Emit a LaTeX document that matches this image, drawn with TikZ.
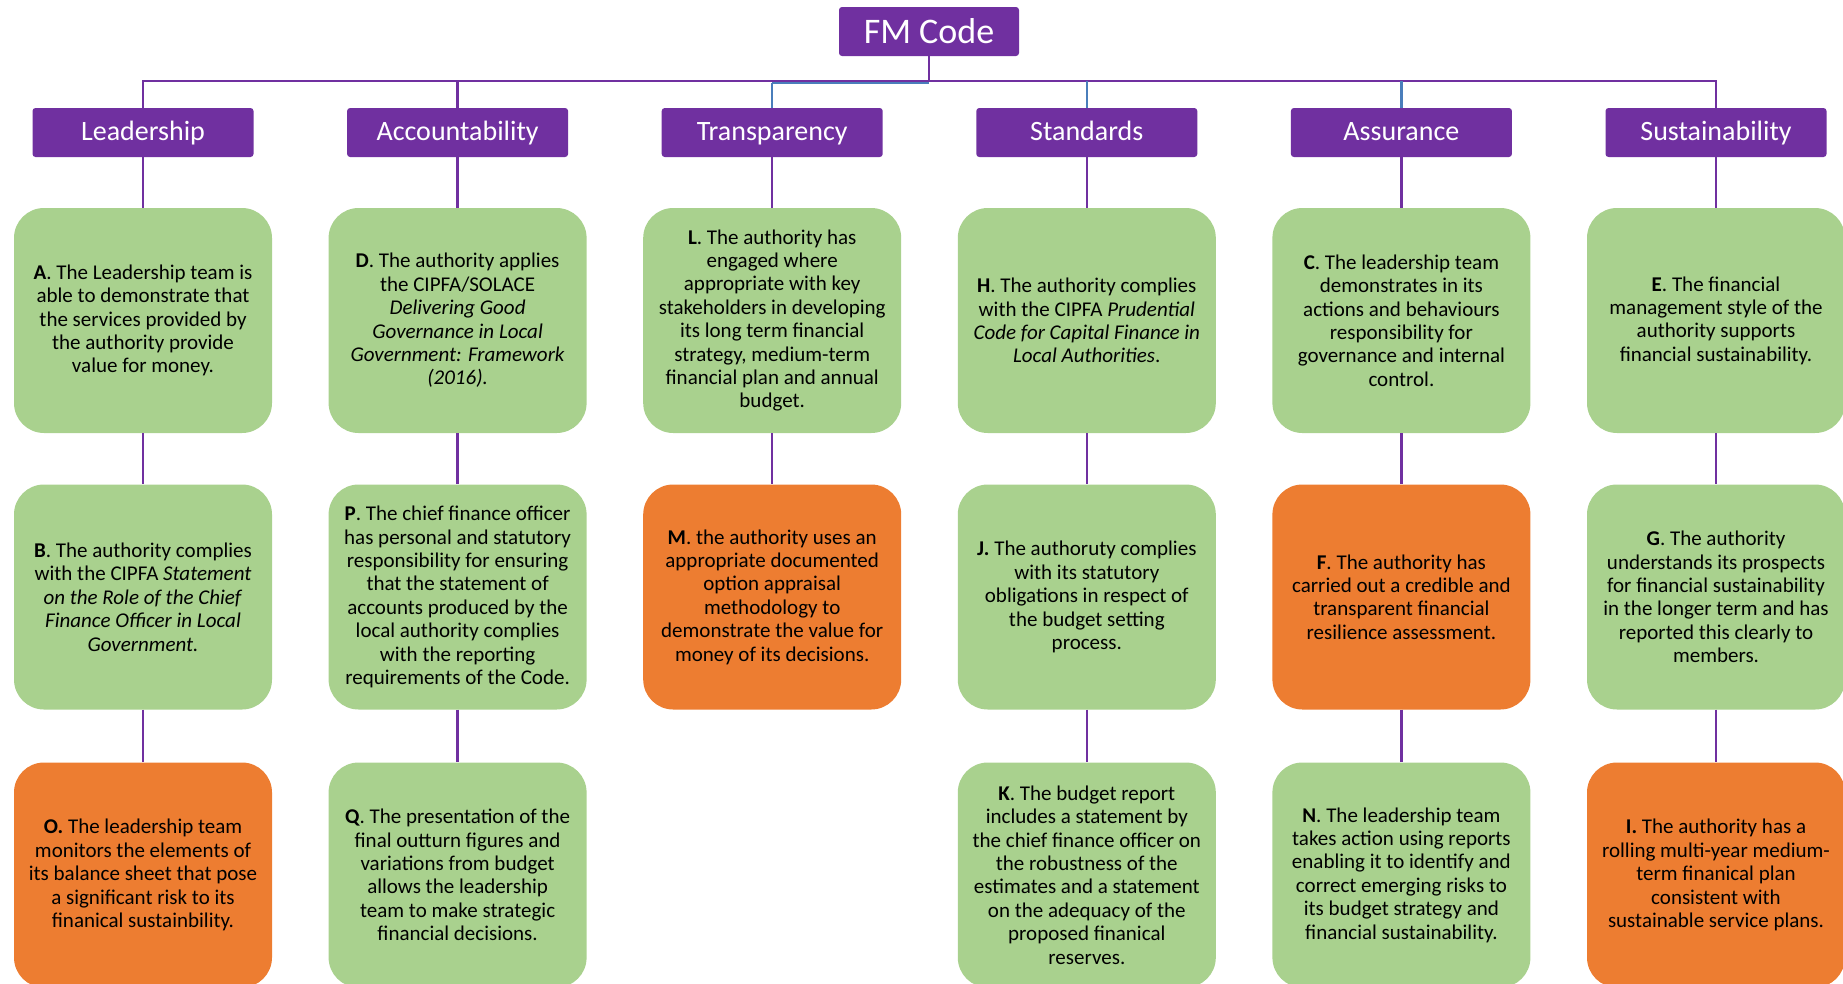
\documentclass[tikz,border=0pt]{standalone}
\usepackage{fontspec}
\setmainfont{Carlito}
\definecolor{fmpurple}{HTML}{7030A0}
\definecolor{fmgreen}{HTML}{A9D18E}
\definecolor{fmorange}{HTML}{ED7D31}
\definecolor{fmblue}{HTML}{4A7EBB}
\tikzset{
  topbox/.style={fill=fmpurple, text=white, rounded corners=3pt, minimum width=180pt,
    minimum height=49pt, inner sep=0pt, font=\fontsize{36}{40}\selectfont},
  pillar/.style={fill=fmpurple, text=white, rounded corners=3pt, minimum width=221pt,
    minimum height=49pt, inner sep=0pt, text height=20pt, text depth=5pt,
    font=\fontsize{28}{32}\selectfont},
  met/.style={fill=fmgreen, rounded corners=30pt, minimum width=258pt,
    minimum height=225pt, inner sep=0pt, align=center, font=\fontsize{21}{23.4}\selectfont},
  unmet/.style={met, fill=fmorange},
  link/.style={draw=fmpurple, line width=2.5pt},
  bluelink/.style={draw=fmblue, line width=2.5pt}
}
\begin{document}
\begin{tikzpicture}[x=1pt, y=-1pt]
    \path[use as bounding box] (0,0) rectangle (1843,983);
    \clip (0,0) rectangle (1843,983);

    \node[topbox] (fm) at (929, 31.5) {FM Code};

    \node[pillar] (lead) at (143, 132.5) {Leadership};
    \node[pillar] (acc) at (457.6, 132.5) {Accountability};
    \node[pillar] (tra) at (772.2, 132.5) {Transparency};
    \node[pillar] (sta) at (1086.8, 132.5) {Standards};
    \node[pillar] (ass) at (1401.4, 132.5) {Assurance};
    \node[pillar] (sus) at (1716, 132.5) {Sustainability};

    % first row
    \node[met] (A) at (143, 320.5) {\textbf{A}. The Leadership team is\\ able to demonstrate that\\
    the services provided by\\ the authority provide\\ value for money.};
    \node[met] (D) at (457.6, 320.5) {\textbf{D}. The authority applies\\ the CIPFA/SOLACE\\
    \textit{Delivering Good}\\ \textit{Governance in Local}\\ \textit{Government: Framework}\\
    \textit{(2016).}};
    \node[met] (L) at (772.2, 320.5) {\textbf{L}. The authority has\\ engaged where\\
    appropriate with key\\ stakeholders in developing\\ its long term financial\\
    strategy, medium-term\\ financial plan and annual\\ budget.};
    \node[met] (H) at (1086.8, 320.5) {\textbf{H}. The authority complies\\ with the CIPFA
    \textit{Prudential}\\ \textit{Code for Capital Finance in}\\ \textit{Local Authorities}.};
    \node[met] (C) at (1401.4, 320.5) {\textbf{C}. The leadership team\\ demonstrates in its\\
    actions and behaviours\\ responsibility for\\ governance and internal\\ control.};
    \node[met] (E) at (1716, 320.5) {\textbf{E}. The financial\\ management style of the\\
    authority supports\\ financial sustainability.};

    % second row
    \node[met] (B) at (143, 597) {\textbf{B}. The authority complies\\ with the CIPFA
    \textit{Statement}\\ \textit{on the Role of the Chief}\\ \textit{Finance Officer in Local}\\
    \textit{Government.}};
    \node[met] (P) at (457.6, 597) {\textbf{P}. The chief finance officer\\ has personal and statutory\\
    responsibility for ensuring\\ that the statement of\\ accounts produced by the\\
    local authority complies\\ with the reporting\\ requirements of the Code.};
    \node[unmet] (M) at (772.2, 597) {\textbf{M}. the authority uses an\\ appropriate documented\\
    option appraisal\\ methodology to\\ demonstrate the value for\\ money of its decisions.};
    \node[met] (J) at (1086.8, 597) {\textbf{J.} The authoruty complies\\ with its statutory\\
    obligations in respect of\\ the budget setting\\ process.};
    \node[unmet] (F) at (1401.4, 597) {\textbf{F}. The authority has\\ carried out a credible and\\
    transparent financial\\ resilience assessment.};
    \node[met] (G) at (1716, 597) {\textbf{G}. The authority\\ understands its prospects\\
    for financial sustainability\\ in the longer term and has\\ reported this clearly to\\ members.};

    % third row
    \node[unmet] (O) at (143, 875) {\textbf{O.} The leadership team\\ monitors the elements of\\
    its balance sheet that pose\\ a significant risk to its\\ finanical sustainbility.};
    \node[met] (Q) at (457.6, 875) {\textbf{Q}. The presentation of the\\ final outturn figures and\\
    variations from budget\\ allows the leadership\\ team to make strategic\\
    financial decisions.};
    \node[met] (K) at (1086.8, 875) {\textbf{K}. The budget report\\ includes a statement by\\
    the chief finance officer on\\ the robustness of the\\ estimates and a statement\\
    on the adequacy of the\\ proposed finanical\\ reserves.};
    \node[met] (N) at (1401.4, 875) {\textbf{N}. The leadership team\\ takes action using reports\\
    enabling it to identify and\\ correct emerging risks to\\ its budget strategy and\\
    financial sustainability.};
    \node[unmet] (I) at (1716, 875) {\textbf{I.} The authority has a\\ rolling multi-year medium-\\
    term finanical plan\\ consistent with\\ sustainable service plans.};

    % bar under the code
    \coordinate (b1) at (143, 81); \coordinate (b2) at (457.6, 81);
    \coordinate (b3) at (772.2, 83); \coordinate (b4) at (1086.8, 81);
    \coordinate (b5) at (1401.4, 81); \coordinate (b6) at (1716, 81);
    \coordinate (bfm) at (929, 81); \coordinate (tfm) at (929, 83);

    \draw[link] (fm) -- (bfm);
    \draw[link, line cap=rect] (b1) -- (b6);
    \draw[bluelink] (b3) -- (tfm);
    \draw[link] (b1) -- (lead); \draw[link] (b2) -- (acc); \draw[link] (b6) -- (sus);
    \draw[bluelink] (b3) -- (tra); \draw[bluelink] (b4) -- (sta); \draw[bluelink] (b5) -- (ass);

    \draw[link] (lead) -- (A); \draw[link] (A) -- (B); \draw[link] (B) -- (O);
    \draw[link] (acc) -- (D); \draw[link] (D) -- (P); \draw[link] (P) -- (Q);
    \draw[link] (tra) -- (L); \draw[link] (L) -- (M);
    \draw[link] (sta) -- (H); \draw[link] (H) -- (J); \draw[link] (J) -- (K);
    \draw[link] (ass) -- (C); \draw[link] (C) -- (F); \draw[link] (F) -- (N);
    \draw[link] (sus) -- (E); \draw[link] (E) -- (G); \draw[link] (G) -- (I);
\end{tikzpicture}
\end{document}
